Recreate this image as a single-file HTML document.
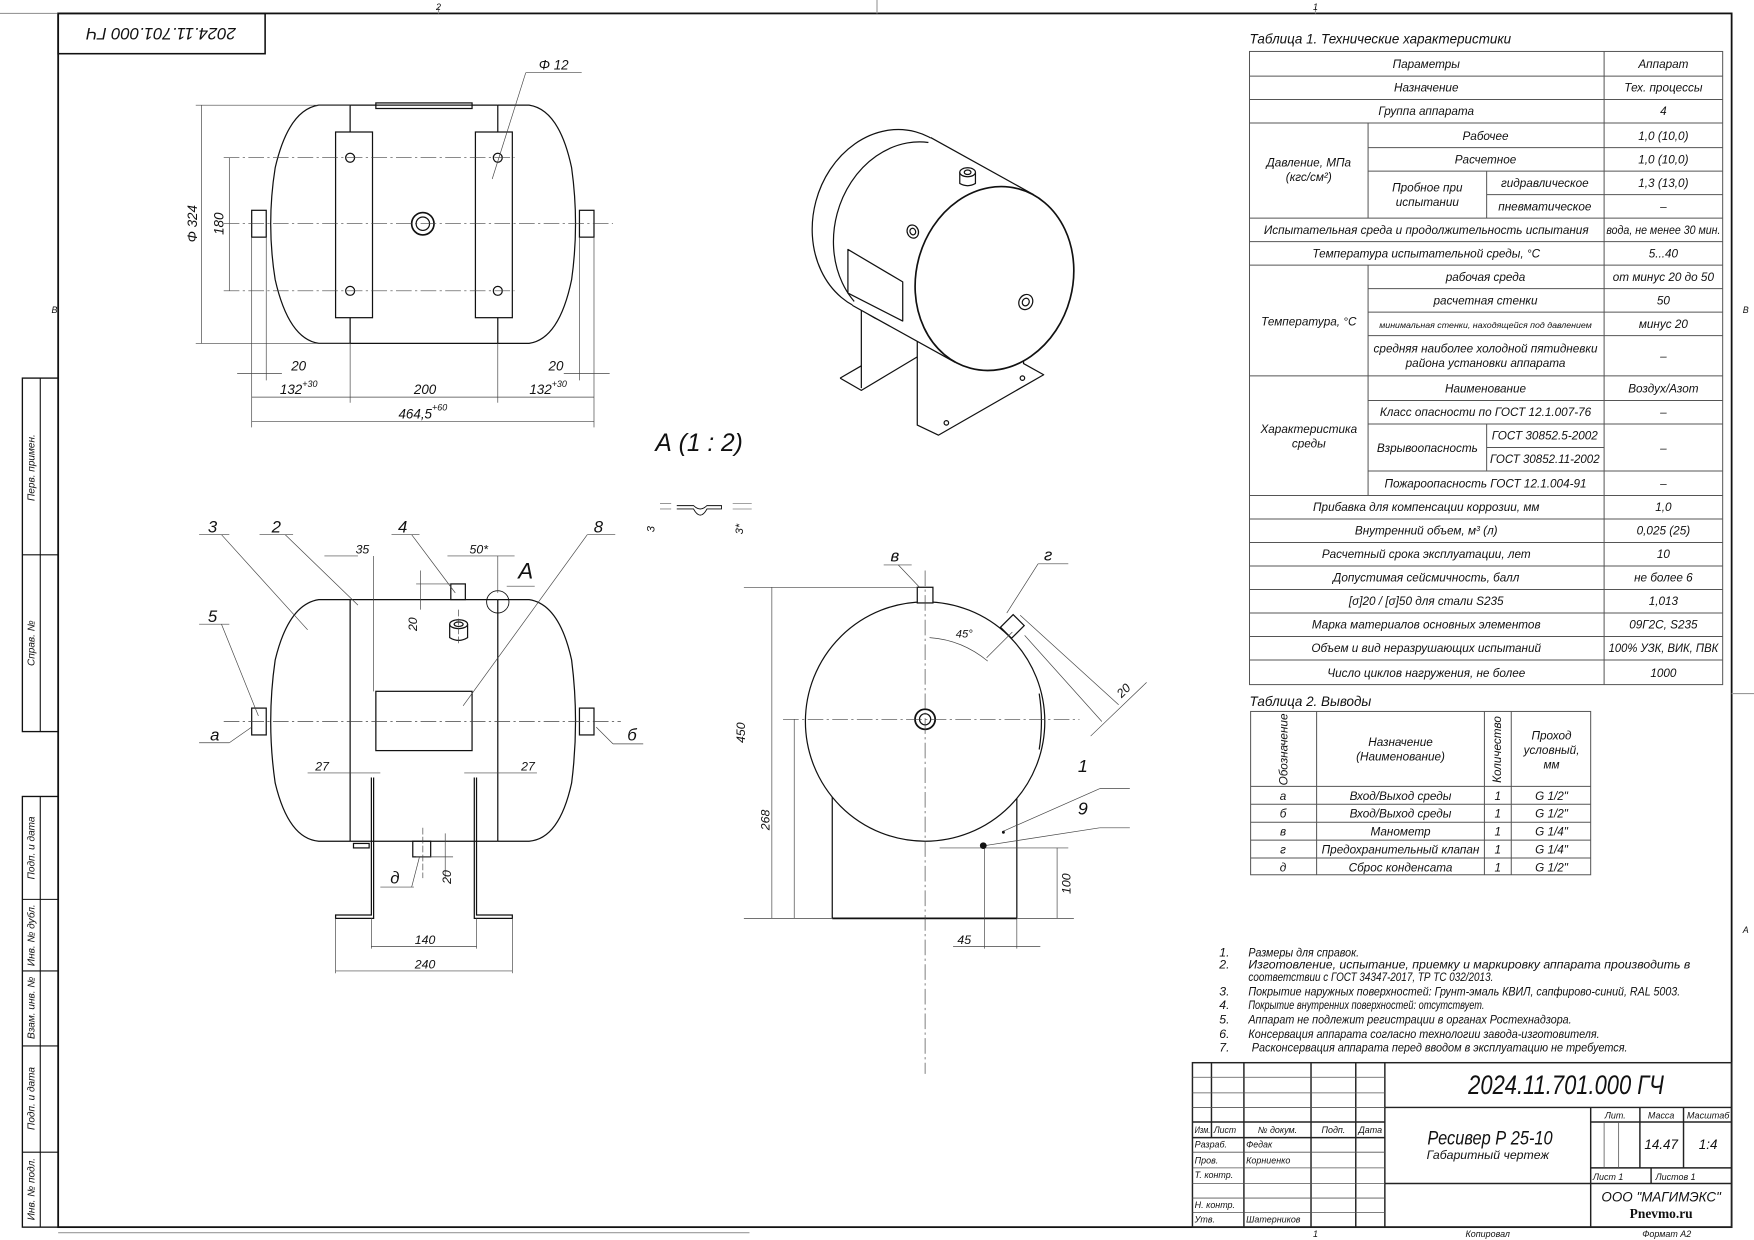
<!DOCTYPE html>
<html><head><meta charset="utf-8"><style>
html,body{margin:0;padding:0;background:#fff;}
svg{display:block;}
text{font-family:"Liberation Sans Narrow","Liberation Sans","DejaVu Sans",sans-serif;font-style:italic;fill:#111;}
.c{text-anchor:middle;}
</style></head><body>
<svg width="1754" height="1240" viewBox="0 0 1568 1108.5" preserveAspectRatio="none" xmlns="http://www.w3.org/2000/svg">
<rect x="0" y="0" width="1568" height="1109" fill="#fff"/>
<g fill="none" stroke="#111" stroke-width="1">
<rect x="52" y="12" width="1496" height="1085" stroke-width="1.6"/>
<line x1="0" y1="12" x2="52" y2="12" stroke="#999"/>
<line x1="392" y1="6" x2="392" y2="12" stroke="#999"/>
<line x1="784" y1="0" x2="784" y2="12" stroke="#999"/>
<line x1="1176" y1="6" x2="1176" y2="12" stroke="#999"/>
<line x1="52" y1="1102" x2="670" y2="1102" stroke="#999"/>
<line x1="1548" y1="620" x2="1568" y2="620" stroke="#999"/>
<rect x="52" y="12" width="185" height="36" stroke-width="1.4"/>
<rect x="20" y="338" width="32" height="316" stroke-width="1.2"/>
<line x1="36" y1="338" x2="36" y2="654"/>
<line x1="20" y1="496" x2="52" y2="496"/>
<rect x="20" y="712" width="32" height="385" stroke-width="1.2"/>
<line x1="36" y1="712" x2="36" y2="1097"/>
<line x1="20" y1="804" x2="52" y2="804"/>
<line x1="20" y1="868" x2="52" y2="868"/>
<line x1="20" y1="935" x2="52" y2="935"/>
<line x1="20" y1="1030" x2="52" y2="1030"/>
</g>
<g font-size="9">
<text transform="translate(31,418) rotate(-90)" class="c">Перв. примен.</text>
<text transform="translate(31,575) rotate(-90)" class="c">Справ. №</text>
<text transform="translate(31,758) rotate(-90)" class="c">Подп. и дата</text>
<text transform="translate(31,836) rotate(-90)" class="c">Инв. № дубл.</text>
<text transform="translate(31,901) rotate(-90)" class="c">Взам. инв. №</text>
<text transform="translate(31,982) rotate(-90)" class="c">Подп. и дата</text>
<text transform="translate(31,1063) rotate(-90)" class="c">Инв. № подл.</text>
<text x="392" y="9" class="c" font-size="8">2</text>
<text x="1176" y="9" class="c" font-size="8">1</text>
<text x="46" y="280" font-size="8">В</text>
<text x="1558" y="280" font-size="8">В</text>
<text x="1558" y="834" font-size="8">А</text>
</g>
<text transform="translate(144,30) rotate(180)" class="c" font-size="15" dy="5">2024.11.701.000 ГЧ</text>

<!-- TOP VIEW -->
<g fill="none" stroke="#111" stroke-width="1.1">
<path d="M313 94 L285 94 Q258 98 246 150 Q238 200 246 250 Q258 303 285 307 L313 307"/>
<path d="M445 94 L473 94 Q500 98 511 150 Q518 200 511 250 Q500 303 473 307 L445 307"/>
<line x1="313" y1="94" x2="445" y2="94"/><line x1="313" y1="307" x2="445" y2="307"/>
<line x1="313" y1="94" x2="313" y2="307"/><line x1="445" y1="94" x2="445" y2="307"/>
<rect x="336" y="92" width="86" height="5"/>
<rect x="300" y="118" width="33" height="166" fill="#fff"/>
<rect x="425" y="118" width="33" height="166" fill="#fff"/>
<circle cx="313" cy="141" r="4"/><circle cx="313" cy="260" r="4"/>
<circle cx="445" cy="141" r="4"/><circle cx="445" cy="260" r="4"/>
<circle cx="378" cy="200" r="10" stroke-width="1.5"/><circle cx="378" cy="200" r="6"/>
<rect x="225" y="188" width="13" height="24"/><rect x="518" y="188" width="13" height="24"/>
</g>
<g fill="none" stroke="#444" stroke-width="0.6">
<line x1="200" y1="200" x2="548" y2="200" stroke-dasharray="14 3 2 3"/>
<line x1="200" y1="141" x2="460" y2="141" stroke-dasharray="14 3 2 3"/>
<line x1="200" y1="260" x2="460" y2="260" stroke-dasharray="14 3 2 3"/>
<line x1="175" y1="94" x2="313" y2="94"/><line x1="175" y1="307" x2="313" y2="307"/>
<line x1="180" y1="94" x2="180" y2="307"/>
<line x1="205" y1="141" x2="205" y2="260"/>
<line x1="225" y1="212" x2="225" y2="382"/><line x1="238" y1="212" x2="238" y2="340"/>
<line x1="313" y1="307" x2="313" y2="360"/><line x1="445" y1="307" x2="445" y2="360"/>
<line x1="531" y1="212" x2="531" y2="382"/><line x1="518" y1="212" x2="518" y2="340"/>
<line x1="212" y1="334" x2="252" y2="334"/><line x1="504" y1="334" x2="545" y2="334"/>
<line x1="225" y1="355" x2="531" y2="355"/>
<line x1="225" y1="377" x2="531" y2="377"/>
<line x1="440" y1="160" x2="470" y2="65"/><line x1="470" y1="65" x2="520" y2="65"/>
</g>
<g font-size="12">
<text transform="translate(176,200) rotate(-90)" class="c">Φ 324</text>
<text transform="translate(200,200) rotate(-90)" class="c">180</text>
<text x="267" y="331" class="c">20</text><text x="497" y="331" class="c">20</text>
<text x="267" y="352" class="c">132<tspan font-size="8" dy="-6">+30</tspan></text>
<text x="380" y="352" class="c">200</text>
<text x="490" y="352" class="c">132<tspan font-size="8" dy="-6">+30</tspan></text>
<text x="378" y="374" class="c">464,5<tspan font-size="8" dy="-7">+60</tspan></text>
<text x="495" y="62" class="c">Φ 12</text>
</g>

<!-- FRONT VIEW -->
<g fill="none" stroke="#111" stroke-width="1.1">
<path d="M313 536 L285 536 Q258 540 246 590 Q238 645 246 700 Q258 750 285 752 L313 752"/>
<path d="M445 536 L473 536 Q500 540 511 590 Q518 645 511 700 Q500 750 473 752 L445 752"/>
<line x1="313" y1="536" x2="445" y2="536"/><line x1="313" y1="752" x2="445" y2="752"/>
<line x1="313" y1="536" x2="313" y2="752"/><line x1="445" y1="536" x2="445" y2="752"/>
<rect x="336" y="618" width="86" height="53"/>
<rect x="403" y="522" width="13" height="14"/>
<ellipse cx="410" cy="558" rx="8" ry="4"/><ellipse cx="410" cy="558" rx="4" ry="2"/>
<path d="M402 558 L402 570 Q410 575 418 570 L418 558"/>
<rect x="225" y="633" width="13" height="24"/><rect x="518" y="633" width="13" height="24"/>
<rect x="369" y="752" width="16" height="14"/>
<rect x="316" y="754" width="14" height="4"/>
<path d="M332 695 L332 818 L300 818 L300 821 L334 821 L334 695"/>
<path d="M426 695 L426 818 L458 818 L458 821 L424 821 L424 695"/>
<circle cx="445" cy="538" r="10" stroke-width="0.8"/>
</g>
<g fill="none" stroke="#444" stroke-width="0.6">
<line x1="200" y1="645" x2="555" y2="645" stroke-dasharray="14 3 2 3"/>
<line x1="410" y1="545" x2="410" y2="575" stroke-dasharray="6 2"/>
<line x1="378" y1="740" x2="378" y2="785" stroke-dasharray="6 2"/>
<line x1="290" y1="497" x2="320" y2="497"/>
<line x1="334" y1="497" x2="334" y2="618"/>
<line x1="400" y1="497" x2="460" y2="497"/><line x1="445" y1="497" x2="445" y2="530"/>
<line x1="372" y1="522" x2="403" y2="522"/><line x1="376" y1="510" x2="376" y2="545"/>
<line x1="372" y1="766" x2="405" y2="766"/><line x1="398" y1="745" x2="398" y2="785"/>
<line x1="275" y1="691" x2="340" y2="691"/><line x1="415" y1="691" x2="480" y2="691"/>
<line x1="300" y1="821" x2="300" y2="870"/><line x1="458" y1="821" x2="458" y2="870"/>
<line x1="332" y1="821" x2="332" y2="848"/><line x1="426" y1="821" x2="426" y2="848"/>
<line x1="332" y1="846" x2="426" y2="846"/><line x1="300" y1="868" x2="458" y2="868"/>
<line x1="178" y1="478" x2="205" y2="478"/><line x1="198" y1="478" x2="275" y2="563"/>
<line x1="232" y1="478" x2="262" y2="478"/><line x1="255" y1="478" x2="320" y2="541"/>
<line x1="350" y1="478" x2="375" y2="478"/><line x1="368" y1="478" x2="407" y2="530"/>
<line x1="525" y1="478" x2="550" y2="478"/><line x1="525" y1="478" x2="414" y2="631"/>
<line x1="178" y1="558" x2="205" y2="558"/><line x1="198" y1="558" x2="231" y2="640"/>
<line x1="178" y1="664" x2="205" y2="664"/><line x1="205" y1="664" x2="225" y2="650"/>
<line x1="548" y1="665" x2="575" y2="665"/><line x1="548" y1="665" x2="533" y2="650"/>
<line x1="340" y1="793" x2="370" y2="793"/><line x1="368" y1="793" x2="375" y2="766"/>
<line x1="453" y1="524" x2="478" y2="524"/>
</g>
<g font-size="13">
<text x="190" y="476" class="c" font-size="15">3</text>
<text x="247" y="476" class="c" font-size="15">2</text>
<text x="360" y="476" class="c" font-size="15">4</text>
<text x="535" y="476" class="c" font-size="15">8</text>
<text x="190" y="556" class="c" font-size="15">5</text>
<text x="192" y="662" class="c" font-size="15">а</text>
<text x="565" y="662" class="c" font-size="15">б</text>
<text x="353" y="790" class="c" font-size="15">д</text>
<text x="470" y="517" class="c" font-size="20">А</text>
<text x="324" y="495" class="c" font-size="11">35</text>
<text x="428" y="495" class="c" font-size="11">50*</text>
<text transform="translate(373,558) rotate(-90)" class="c" font-size="11">20</text>
<text transform="translate(403,784) rotate(-90)" class="c" font-size="11">20</text>
<text x="288" y="689" class="c" font-size="11">27</text>
<text x="472" y="689" class="c" font-size="11">27</text>
<text x="380" y="844" class="c" font-size="11">140</text>
<text x="380" y="866" class="c" font-size="11">240</text>
</g>

<text x="625" y="403" class="c" font-size="22">А (1 : 2)</text>
<g fill="none" stroke="#111" stroke-width="0.8">
<path d="M605 452 L620 452 Q626 458 632 452 L645 452 L645 455 L632 455 Q626 466 620 455 L605 455"/>
<line x1="590" y1="450" x2="600" y2="450" stroke="#444" stroke-width="0.5"/>
<line x1="590" y1="455" x2="600" y2="455" stroke="#444" stroke-width="0.5"/>
<line x1="655" y1="450" x2="672" y2="450" stroke="#444" stroke-width="0.5"/>
<line x1="655" y1="455" x2="672" y2="455" stroke="#444" stroke-width="0.5"/>
</g>
<text transform="translate(585,473) rotate(-90)" class="c" font-size="10">3</text>
<text transform="translate(664,473) rotate(-90)" class="c" font-size="10">3*</text>

<!-- SIDE VIEW -->
<g fill="none" stroke="#111" stroke-width="1.1">
<line x1="744" y1="700" x2="744" y2="821"/><line x1="909" y1="700" x2="909" y2="821"/>
<line x1="744" y1="821" x2="909" y2="821" stroke-width="1.6"/>
<circle cx="827" cy="645" r="107" fill="#fff"/>
<rect x="820" y="525" width="14" height="14" fill="#fff"/>
<circle cx="827" cy="643" r="9" stroke-width="1.6"/><circle cx="827" cy="643" r="5"/>
<path d="M929 620 Q933 645 929 670"/>
<g transform="rotate(45 905 560)"><rect x="898" y="552" width="14" height="16" fill="#fff"/></g>
</g>
<g fill="none" stroke="#444" stroke-width="0.6">
<line x1="827" y1="510" x2="827" y2="960" stroke-dasharray="14 3 2 3"/>
<line x1="700" y1="643" x2="965" y2="643" stroke-dasharray="14 3 2 3"/>
<line x1="665" y1="525" x2="820" y2="525"/>
<line x1="690" y1="525" x2="690" y2="821"/>
<line x1="710" y1="643" x2="710" y2="821"/>
<line x1="665" y1="821" x2="744" y2="821"/>
<line x1="909" y1="821" x2="960" y2="821"/>
<line x1="840" y1="758" x2="955" y2="758"/>
<line x1="945" y1="758" x2="945" y2="821"/>
<line x1="983" y1="705" x2="1010" y2="705"/>
<line x1="983" y1="705" x2="897" y2="743"/>
<line x1="983" y1="740" x2="1010" y2="740"/>
<line x1="983" y1="740" x2="880" y2="756"/>
<line x1="912" y1="550" x2="1000" y2="630"/>
<line x1="916" y1="568" x2="985" y2="645"/>
<line x1="975" y1="658" x2="1025" y2="610"/>
<line x1="882" y1="588" x2="905" y2="565"/>
<path d="M831 570 Q860 572 883 591"/>
<line x1="803" y1="505" x2="822" y2="525"/>
<line x1="790" y1="505" x2="815" y2="505"/>
<line x1="928" y1="504" x2="900" y2="548"/>
<line x1="928" y1="504" x2="955" y2="504"/>
<line x1="880" y1="757" x2="880" y2="848"/>
<line x1="909" y1="821" x2="909" y2="848"/>
<line x1="852" y1="846" x2="930" y2="846"/>
</g>
<circle cx="879" cy="756" r="3" fill="#111"/>
<circle cx="897" cy="744" r="1.3" fill="#111"/>
<g font-size="12">
<text x="800" y="502" class="c" font-size="15">в</text>
<text x="937" y="501" class="c" font-size="15">г</text>
<text x="968" y="690" class="c" font-size="16">1</text>
<text x="968" y="728" class="c" font-size="16">9</text>
<text x="862" y="570" class="c" font-size="10">45°</text>
<text transform="translate(1007,620) rotate(-45)" class="c" font-size="11">20</text>
<text transform="translate(666,655) rotate(-90)" class="c" font-size="11">450</text>
<text transform="translate(688,733) rotate(-90)" class="c" font-size="11">268</text>
<text transform="translate(957,790) rotate(-90)" class="c" font-size="11">100</text>
<text x="862" y="844" class="c" font-size="11">45</text>
</g>

<!-- ISOMETRIC -->
<g fill="none" stroke="#111" stroke-width="1.1" stroke-linejoin="round">
<path d="M770 262 L770 347 M751 338 L770 349 L820 319"/>
<path d="M751 338 L770 327"/>
<ellipse cx="797" cy="198" rx="70" ry="83" transform="rotate(15 797 198)" fill="#fff"/>
<ellipse cx="816" cy="209" rx="70" ry="83" transform="rotate(15 816 209)" fill="#fff"/>
<polygon points="832,123 924,174 854,324 762,273" fill="#fff" stroke="none"/>
<line x1="832" y1="123" x2="924" y2="174"/>
<line x1="762" y1="273" x2="854" y2="324"/>
<path d="M758 223 L807 252 L807 287 L758 262 Z" fill="#fff"/>
<path d="M820 305 L820 380 L839 389 L933 335 L915 325 L915 312"/>
<circle cx="846" cy="378" r="2"/><circle cx="914" cy="338" r="2"/>
<ellipse cx="889" cy="249" rx="70" ry="83" transform="rotate(15 889 249)" fill="#fff" stroke-width="1.5"/>
<path d="M858 154 L858 164 Q865 168 872 164 L872 154" fill="#fff"/>
<ellipse cx="865" cy="154" rx="7" ry="4" fill="#fff"/><ellipse cx="865" cy="154" rx="3" ry="2"/>
<ellipse cx="816" cy="207" rx="5" ry="6" transform="rotate(-20 816 207)" fill="#fff"/>
<ellipse cx="816" cy="207" rx="2.5" ry="3" transform="rotate(-20 816 207)"/>
<ellipse cx="917" cy="270" rx="6" ry="7" transform="rotate(30 917 270)"/>
<ellipse cx="917" cy="270" rx="3" ry="3.5" transform="rotate(30 917 270)"/>
</g>

<!-- TABLE 1 -->
<text x="1117" y="39" font-size="12">Таблица 1. Технические характеристики</text>
<g fill="none" stroke="#555" stroke-width="0.9">
<rect x="1117" y="46" width="423" height="566"/>
<line x1="1434" y1="46" x2="1434" y2="612"/>
<line x1="1117" y1="68" x2="1540" y2="68"/><line x1="1117" y1="89" x2="1540" y2="89"/>
<line x1="1117" y1="110" x2="1540" y2="110"/>
<line x1="1223" y1="132" x2="1540" y2="132"/><line x1="1223" y1="153" x2="1540" y2="153"/>
<line x1="1329" y1="174" x2="1540" y2="174"/>
<line x1="1117" y1="195" x2="1540" y2="195"/><line x1="1117" y1="216" x2="1540" y2="216"/>
<line x1="1117" y1="237" x2="1540" y2="237"/>
<line x1="1223" y1="258" x2="1540" y2="258"/><line x1="1223" y1="279" x2="1540" y2="279"/>
<line x1="1223" y1="300" x2="1540" y2="300"/>
<line x1="1117" y1="336" x2="1540" y2="336"/>
<line x1="1223" y1="358" x2="1540" y2="358"/><line x1="1223" y1="379" x2="1540" y2="379"/>
<line x1="1329" y1="400" x2="1434" y2="400"/>
<line x1="1223" y1="421" x2="1540" y2="421"/>
<line x1="1117" y1="443" x2="1540" y2="443"/><line x1="1117" y1="464" x2="1540" y2="464"/>
<line x1="1117" y1="485" x2="1540" y2="485"/><line x1="1117" y1="506" x2="1540" y2="506"/>
<line x1="1117" y1="527" x2="1540" y2="527"/><line x1="1117" y1="548" x2="1540" y2="548"/>
<line x1="1117" y1="569" x2="1540" y2="569"/><line x1="1117" y1="590" x2="1540" y2="590"/>
<line x1="1223" y1="110" x2="1223" y2="195"/>
<line x1="1329" y1="153" x2="1329" y2="195"/>
<line x1="1223" y1="237" x2="1223" y2="443"/>
<line x1="1329" y1="379" x2="1329" y2="421"/>
</g>
<g font-size="10.5">
<text x="1275" y="61" class="c">Параметры</text><text x="1487" y="61" class="c">Аппарат</text>
<text x="1275" y="82" class="c">Назначение</text><text x="1487" y="82" class="c">Тех. процессы</text>
<text x="1275" y="103" class="c">Группа аппарата</text><text x="1487" y="103" class="c">4</text>
<text x="1170" y="149" class="c">Давление, МПа</text><text x="1170" y="162" class="c">(кгс/см²)</text>
<text x="1328" y="125" class="c">Рабочее</text><text x="1487" y="125" class="c">1,0 (10,0)</text>
<text x="1328" y="146" class="c">Расчетное</text><text x="1487" y="146" class="c">1,0 (10,0)</text>
<text x="1276" y="171" class="c">Пробное при</text><text x="1276" y="184" class="c">испытании</text>
<text x="1381" y="167" class="c">гидравлическое</text><text x="1487" y="167" class="c">1,3 (13,0)</text>
<text x="1381" y="188" class="c">пневматическое</text><text x="1487" y="188" class="c">–</text>
<text x="1275" y="209" class="c">Испытательная среда и продолжительность испытания</text><text x="1487" y="209" class="c" textLength="102" lengthAdjust="spacingAndGlyphs">вода, не менее 30 мин.</text>
<text x="1275" y="230" class="c">Температура испытательной среды, °С</text><text x="1487" y="230" class="c">5...40</text>
<text x="1170" y="291" class="c">Температура, °С</text>
<text x="1328" y="251" class="c">рабочая среда</text><text x="1487" y="251" class="c">от минус 20 до 50</text>
<text x="1328" y="272" class="c">расчетная стенки</text><text x="1487" y="272" class="c">50</text>
<text x="1328" y="293" class="c" font-size="7.5" textLength="190" lengthAdjust="spacingAndGlyphs">минимальная стенки, находящейся под давлением</text><text x="1487" y="293" class="c">минус 20</text>
<text x="1328" y="315" class="c">средняя наиболее холодной пятидневки</text>
<text x="1328" y="328" class="c">района установки аппарата</text><text x="1487" y="322" class="c">–</text>
<text x="1170" y="387" class="c">Характеристика</text><text x="1170" y="400" class="c">среды</text>
<text x="1328" y="351" class="c">Наименование</text><text x="1487" y="351" class="c">Воздух/Азот</text>
<text x="1328" y="372" class="c">Класс опасности по ГОСТ 12.1.007-76</text><text x="1487" y="372" class="c">–</text>
<text x="1276" y="404" class="c">Взрывоопасность</text>
<text x="1381" y="393" class="c">ГОСТ 30852.5-2002</text>
<text x="1381" y="414" class="c" textLength="98" lengthAdjust="spacingAndGlyphs">ГОСТ 30852.11-2002</text><text x="1487" y="404" class="c">–</text>
<text x="1328" y="436" class="c">Пожароопасность ГОСТ 12.1.004-91</text><text x="1487" y="436" class="c">–</text>
<text x="1275" y="457" class="c">Прибавка для компенсации коррозии, мм</text><text x="1487" y="457" class="c">1,0</text>
<text x="1275" y="478" class="c">Внутренний объем, м³ (л)</text><text x="1487" y="478" class="c">0,025 (25)</text>
<text x="1275" y="499" class="c">Расчетный срока эксплуатации, лет</text><text x="1487" y="499" class="c">10</text>
<text x="1275" y="520" class="c">Допустимая сейсмичность, балл</text><text x="1487" y="520" class="c">не более 6</text>
<text x="1275" y="541" class="c">[σ]20 / [σ]50 для стали S235</text><text x="1487" y="541" class="c">1,013</text>
<text x="1275" y="562" class="c">Марка материалов основных элементов</text><text x="1487" y="562" class="c">09Г2С, S235</text>
<text x="1275" y="583" class="c">Объем и вид неразрушающих испытаний</text><text x="1487" y="583" class="c" textLength="98" lengthAdjust="spacingAndGlyphs">100% УЗК, ВИК, ПВК</text>
<text x="1275" y="605" class="c">Число циклов нагружения, не более</text><text x="1487" y="605" class="c">1000</text>
</g>

<!-- TABLE 2 -->
<text x="1117" y="631" font-size="12">Таблица 2. Выводы</text>
<g fill="none" stroke="#555" stroke-width="0.9">
<rect x="1118" y="636" width="304" height="146"/>
<line x1="1177" y1="636" x2="1177" y2="782"/><line x1="1327" y1="636" x2="1327" y2="782"/>
<line x1="1351" y1="636" x2="1351" y2="782"/>
<line x1="1118" y1="703" x2="1422" y2="703"/><line x1="1118" y1="719" x2="1422" y2="719"/>
<line x1="1118" y1="735" x2="1422" y2="735"/><line x1="1118" y1="751" x2="1422" y2="751"/>
<line x1="1118" y1="767" x2="1422" y2="767"/>
</g>
<g font-size="10.5">
<text transform="translate(1151,670) rotate(-90)" class="c">Обозначение</text>
<text transform="translate(1342,670) rotate(-90)" class="c">Количество</text>
<text x="1252" y="667" class="c">Назначение</text><text x="1252" y="680" class="c">(Наименование)</text>
<text x="1387" y="661" class="c">Проход</text><text x="1387" y="674" class="c">условный,</text><text x="1387" y="687" class="c">мм</text>
<text x="1147" y="715" class="c">а</text><text x="1252" y="715" class="c">Вход/Выход среды</text><text x="1339" y="715" class="c">1</text><text x="1387" y="715" class="c">G 1/2"</text>
<text x="1147" y="731" class="c">б</text><text x="1252" y="731" class="c">Вход/Выход среды</text><text x="1339" y="731" class="c">1</text><text x="1387" y="731" class="c">G 1/2"</text>
<text x="1147" y="747" class="c">в</text><text x="1252" y="747" class="c">Манометр</text><text x="1339" y="747" class="c">1</text><text x="1387" y="747" class="c">G 1/4"</text>
<text x="1147" y="763" class="c">г</text><text x="1252" y="763" class="c">Предохранительный клапан</text><text x="1339" y="763" class="c">1</text><text x="1387" y="763" class="c">G 1/4"</text>
<text x="1147" y="779" class="c">д</text><text x="1252" y="779" class="c">Сброс конденсата</text><text x="1339" y="779" class="c">1</text><text x="1387" y="779" class="c">G 1/2"</text>
</g>

<!-- NOTES -->
<g font-size="11">
<text x="1090" y="855">1.</text><text x="1116" y="855" textLength="99" lengthAdjust="spacingAndGlyphs">Размеры для справок.</text>
<text x="1090" y="866">2.</text><text x="1116" y="866" textLength="395" lengthAdjust="spacingAndGlyphs">Изготовление, испытание, приемку и маркировку аппарата производить в</text>
<text x="1116" y="877" textLength="219" lengthAdjust="spacingAndGlyphs">соответствии с ГОСТ 34347-2017, ТР ТС 032/2013.</text>
<text x="1090" y="890">3.</text><text x="1116" y="890" textLength="386" lengthAdjust="spacingAndGlyphs">Покрытие наружных поверхностей: Грунт-эмаль КВИЛ, сапфирово-синий, RAL 5003.</text>
<text x="1090" y="902">4.</text><text x="1116" y="902" textLength="211" lengthAdjust="spacingAndGlyphs">Покрытие внутренних поверхностей: отсутствует.</text>
<text x="1090" y="915">5.</text><text x="1116" y="915" textLength="289" lengthAdjust="spacingAndGlyphs">Аппарат не подлежит регистрации в органах Ростехнадзора.</text>
<text x="1090" y="928">6.</text><text x="1116" y="928" textLength="314" lengthAdjust="spacingAndGlyphs">Консервация аппарата согласно технологии завода-изготовителя.</text>
<text x="1090" y="940">7.</text><text x="1119" y="940" textLength="336" lengthAdjust="spacingAndGlyphs">Расконсервация аппарата перед вводом в эксплуатацию не требуется.</text>
</g>

<!-- TITLE BLOCK -->
<g fill="none" stroke="#222" stroke-width="1.3">
<rect x="1066" y="950" width="482" height="147"/>
<line x1="1238" y1="950" x2="1238" y2="1097"/>
<line x1="1238" y1="990" x2="1548" y2="990"/>
<line x1="1238" y1="1058" x2="1548" y2="1058"/>
<line x1="1422" y1="990" x2="1422" y2="1097"/>
<line x1="1422" y1="1044" x2="1548" y2="1044"/>
<line x1="1422" y1="1003" x2="1548" y2="1003"/>
<line x1="1466" y1="990" x2="1466" y2="1044"/><line x1="1505" y1="990" x2="1505" y2="1044"/>
<line x1="1476" y1="1044" x2="1476" y2="1058"/>
<line x1="1083" y1="950" x2="1083" y2="1017"/><line x1="1112" y1="950" x2="1112" y2="1097"/>
<line x1="1172" y1="950" x2="1172" y2="1097"/><line x1="1212" y1="950" x2="1212" y2="1097"/>
<line x1="1066" y1="1003" x2="1238" y2="1003"/><line x1="1066" y1="1017" x2="1238" y2="1017"/>
</g>
<g fill="none" stroke="#555" stroke-width="0.7">
<line x1="1066" y1="963" x2="1238" y2="963"/><line x1="1066" y1="977" x2="1238" y2="977"/>
<line x1="1066" y1="990" x2="1238" y2="990"/>
<line x1="1066" y1="1030" x2="1238" y2="1030"/><line x1="1066" y1="1044" x2="1238" y2="1044"/>
<line x1="1066" y1="1058" x2="1238" y2="1058"/><line x1="1066" y1="1071" x2="1238" y2="1071"/>
<line x1="1066" y1="1084" x2="1238" y2="1084"/>
<line x1="1434" y1="1003" x2="1434" y2="1044"/><line x1="1447" y1="1003" x2="1447" y2="1044"/>
</g>
<g font-size="8">
<text x="1068" y="1013" textLength="14" lengthAdjust="spacingAndGlyphs">Изм.</text><text x="1085" y="1013" textLength="20" lengthAdjust="spacingAndGlyphs">Лист</text><text x="1142" y="1013" class="c">№ докум.</text>
<text x="1192" y="1013" class="c">Подп.</text><text x="1225" y="1013" class="c">Дата</text>
<text x="1068" y="1026">Разраб.</text><text x="1114" y="1026">Федак</text>
<text x="1068" y="1040">Пров.</text><text x="1114" y="1040">Корниенко</text>
<text x="1068" y="1053">Т. контр.</text>
<text x="1068" y="1080">Н. контр.</text>
<text x="1068" y="1093">Утв.</text><text x="1114" y="1093">Шатерников</text>
<text x="1444" y="1000" class="c">Лит.</text><text x="1485" y="1000" class="c">Масса</text><text x="1527" y="1000" class="c" textLength="38" lengthAdjust="spacingAndGlyphs">Масштаб</text>
<text x="1424" y="1055">Лист 1</text><text x="1480" y="1055">Листов 1</text>
<text x="1176" y="1106" class="c">1</text>
<text x="1330" y="1106" class="c">Копировал</text>
<text x="1490" y="1106" class="c">Формат А2</text>
</g>
<text x="1400" y="978" class="c" font-size="24" textLength="175" lengthAdjust="spacingAndGlyphs">2024.11.701.000 ГЧ</text>
<text x="1332" y="1023" class="c" font-size="17" textLength="112" lengthAdjust="spacingAndGlyphs">Ресивер Р 25-10</text>
<text x="1330" y="1036" class="c" font-size="11">Габаритный чертеж</text>
<text x="1485" y="1027" class="c" font-size="12">14.47</text>
<text x="1527" y="1027" class="c" font-size="12">1:4</text>
<text x="1485" y="1074" class="c" font-size="12">ООО "МАГИМЭКС"</text>
<text x="1485" y="1089" class="c" font-size="12" style="font-family:'Liberation Serif',serif;font-style:normal;font-weight:bold">Pnevmo.ru</text>
</svg>
</body></html>
